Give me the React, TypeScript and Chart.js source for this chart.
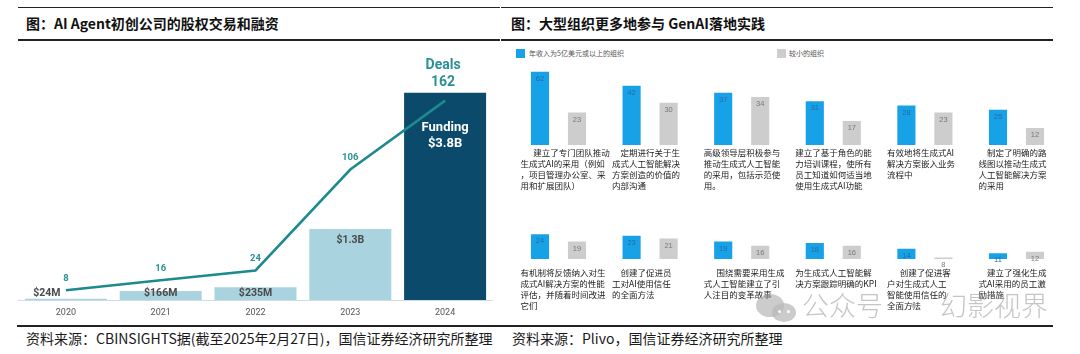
import React, { useEffect, useRef } from 'react';
import { Chart, registerables } from 'chart.js';

Chart.register(...registerables);

// ---------- Left panel data ----------
const years = ['2020', '2021', '2022', '2023', '2024'];
const fundingMillions = [24, 166, 235, 1300, 3800];
const fundingLabels = ['$24M', '$166M', '$235M', '$1.3B', '$3.8B'];
const dealCounts = [8, 16, 24, 106, 162];

// ---------- Right panel data ----------
const seriesNames = ['年收入为5亿美元或以上的组织', '较小的组织'];
const practicesTop = [
  ['\u3000\u2002建立了专门团队推动', '生成式AI的采用（例如', '，项目管理办公室、采', '用和扩展团队）'],
  ['\u3000定期进行关于生', '成式人工智能解决', '方案创造的价值的', '内部沟通'],
  ['高级领导层积极参与', '推动生成式人工智能', '的采用，包括示范使', '用。'],
  ['建立了基于角色的能', '力培训课程，使所有', '员工知道如何适当地', '使用生成式AI功能'],
  ['有效地将生成式AI', '解决方案嵌入业务', '流程中'],
  ['\u3000制定了明确的路', '线图以推动生成式', '人工智能解决方案', '的采用'],
];
const largeOrgTop = [62, 42, 37, 31, 28, 25];
const smallOrgTop = [23, 30, 34, 17, 23, 12];

const practicesBottom = [
  ['有机制将反馈纳入对生', '成式AI解决方案的性能', '评估，并随着时间改进', '它们'],
  ['\u3000创建了促进员', '工对AI使用信任', '的全面方法'],
  ['\u3000\u2002围绕需要采用生成', '式人工智能建立了引', '人注目的变革故事'],
  ['为生成式人工智能解', '决方案跟踪明确的KPI'],
  ['\u3000\u2002创建了促进客', '户对生成式人工', '智能使用信任的', '全面方法'],
  ['\u3000建立了强化生成', '式AI采用的员工激', '励措施'],
];
const largeOrgBottom = [24, 23, 19, 18, 14, 11];
const smallOrgBottom = [19, 21, 16, 16, 8, 12];

// ---------- Styles ----------
const CJK = '"Noto Sans CJK SC", "Noto Sans", sans-serif';
const BLUE = '#17a2e8';
const GRAY = '#cdcdcd';
const LIGHT = '#a9d3de';
const DARK = '#0b4a6a';
const TEAL = '#1d8a8e';

const leftLabelPlugin = {
  id: 'leftLabels',
  afterDatasetsDraw(chart: any) {
    const ctx = chart.ctx;
    const barMeta = chart.getDatasetMeta(0);
    const lineMeta = chart.getDatasetMeta(1);
    ctx.save();
    ctx.textAlign = 'center';
    ctx.textBaseline = 'middle';
    const last = fundingLabels.length - 1;
    barMeta.data.forEach((el: any, i: number) => {
      const { x, y, base } = el.getProps(['x', 'y', 'base'], true);
      const h = base - y;
      if (i === last) {
        ctx.fillStyle = '#ffffff';
        ctx.font = 'bold 13px Roboto';
        ctx.fillText('Funding', x, y + 35);
        ctx.fillText(fundingLabels[i], x, y + 51);
      } else {
        ctx.fillStyle = '#4a4a4a';
        ctx.font = 'bold 10.5px Roboto';
        const ly = h < 25 ? base - 7 : y + 11;
        const lx = i === 0 ? x - 19 : x;
        ctx.fillText(fundingLabels[i], lx, ly);
      }
    });
    lineMeta.data.forEach((pt: any, i: number) => {
      const { x, y } = pt.getProps(['x', 'y'], true);
      ctx.fillStyle = '#2a9096';
      if (i === dealCounts.length - 1) {
        ctx.font = 'bold 14px Roboto';
        ctx.fillText('Deals', x - 2, y - 35);
        ctx.fillText(String(dealCounts[i]), x - 2, y - 18);
      } else {
        ctx.font = 'bold 9.5px Roboto';
        ctx.fillText(String(dealCounts[i]), x, y - 12);
      }
    });
    ctx.restore();
  },
};

const valueLabelPlugin = {
  id: 'valueLabels',
  afterDatasetsDraw(chart: any) {
    const { ctx, chartArea } = chart;
    ctx.save();
    ctx.font = '7.5px "Liberation Sans", Arial, sans-serif';
    ctx.textAlign = 'center';
    ctx.textBaseline = 'middle';
    chart.data.datasets.forEach((ds: any, di: number) => {
      const meta = chart.getDatasetMeta(di);
      ctx.fillStyle = di === 0 ? '#2a68a0' : '#777777';
      meta.data.forEach((el: any, i: number) => {
        const { x, y } = el.getProps(['x', 'y'], true);
        const top = Math.max(y, chartArea.top);
        ctx.fillText(String(ds.data[i]), x, top + 7);
      });
    });
    ctx.restore();
  },
};

function leftConfig(): any {
  return {
    type: 'bar',
    data: {
      labels: years,
      datasets: [
        {
          type: 'bar',
          data: fundingMillions,
          yAxisID: 'y',
          backgroundColor: fundingMillions.map((_, i) => (i === fundingMillions.length - 1 ? DARK : LIGHT)),
          categoryPercentage: 1,
          barPercentage: 0.865,
          order: 1,
        },
        {
          type: 'line',
          data: dealCounts,
          yAxisID: 'y1',
          borderColor: TEAL,
          borderWidth: 2.5,
          pointRadius: 0,
          tension: 0,
          fill: false,
          order: 0,
        },
      ],
    },
    options: {
      responsive: false,
      animation: false,
      devicePixelRatio: 1,
      events: [],
      layout: { padding: { left: 18.5, right: 7.5, top: 20, bottom: 0 } },
      plugins: { legend: { display: false }, tooltip: { enabled: false } },
      scales: {
        x: {
          grid: { display: false, drawTicks: false },
          border: { display: true, color: '#cfdde2', width: 1 },
          ticks: { color: '#555', font: { family: 'Roboto', size: 9 }, padding: 7.5 },
          afterFit: (s: any) => {
            s.height = 25;
          },
        },
        y: { display: false, min: 0, max: 4400 },
        y1: { display: false, min: 0, max: 195 },
      },
    },
    plugins: [leftLabelPlugin],
  };
}

function rowConfig(labels: string[][], large: number[], small: number[], yMin: number, yMax: number, padTop: number, axisH: number, tickPad: number): any {
  return {
    type: 'bar',
    data: {
      labels,
      datasets: [
        { label: seriesNames[0], data: large, backgroundColor: BLUE, categoryPercentage: 0.808, barPercentage: 0.49, clip: 0 },
        { label: seriesNames[1], data: small, backgroundColor: GRAY, categoryPercentage: 0.808, barPercentage: 0.49, clip: 0 },
      ],
    },
    options: {
      responsive: false,
      animation: false,
      devicePixelRatio: 1,
      events: [],
      layout: { padding: { left: 12.7, right: 17.7, top: padTop, bottom: 0 } },
      plugins: { legend: { display: false }, tooltip: { enabled: false } },
      scales: {
        x: {
          grid: { display: false, drawTicks: false },
          border: { display: false },
          ticks: {
            align: 'start',
            labelOffset: -38,
            padding: tickPad,
            autoSkip: false,
            maxRotation: 0,
            minRotation: 0,
            color: '#222',
            font: { family: CJK, size: 8.5, lineHeight: 1.3 },
          },
          afterFit: (s: any) => {
            s.height = axisH;
            s.paddingLeft = 0;
            s.paddingRight = 0;
          },
        },
        y: { display: false, min: yMin, max: yMax, beginAtZero: false },
      },
    },
    plugins: [valueLabelPlugin],
  };
}

function ChartBox({ make, left, top, width, height }: any) {
  const ref = useRef<HTMLCanvasElement>(null);
  useEffect(() => {
    const chart = new Chart(ref.current as HTMLCanvasElement, make());
    return () => chart.destroy();
  }, []);
  return (
    <canvas
      ref={ref}
      width={width}
      height={height}
      style={{ position: 'absolute', left, top, width, height }}
    />
  );
}

const abs = (o: any) => ({ position: 'absolute' as const, ...o });

export default function App() {
  const titleStyle = {
    fontFamily: CJK,
    fontWeight: 700,
    fontSize: 14,
    lineHeight: '20px',
    color: '#111',
    whiteSpace: 'nowrap' as const,
  };
  const sourceStyle = {
    fontFamily: CJK,
    fontSize: 14,
    lineHeight: '20px',
    color: '#1a1a1a',
    whiteSpace: 'nowrap' as const,
  };
  const legendText = { fontFamily: CJK, fontSize: 7, lineHeight: '10px', color: '#555', whiteSpace: 'nowrap' as const };
  const wm = { fontFamily: CJK, fontSize: 27, fontWeight: 300, lineHeight: '30px', color: 'rgba(150,150,150,0.55)', whiteSpace: 'nowrap' as const };

  return (
    <div style={{ position: 'fixed', left: 0, top: 0, width: 1080, height: 354, background: '#fff', overflow: 'hidden' }}>
      {/* rules */}
      <div style={abs({ left: 18, top: 7, width: 482, height: 1, background: '#222' })} />
      <div style={abs({ left: 18, top: 39, width: 482, height: 2, background: '#222' })} />
      <div style={abs({ left: 501, top: 7, width: 552, height: 1, background: '#222' })} />
      <div style={abs({ left: 501, top: 39, width: 552, height: 2, background: '#222' })} />
      <div style={abs({ left: 17, top: 325, width: 483, height: 2, background: '#222' })} />
      <div style={abs({ left: 500, top: 325, width: 553, height: 2, background: '#222' })} />

      {/* titles */}
      <div style={abs({ left: 26, top: 13, ...titleStyle })}>图：AI Agent初创公司的股权交易和融资</div>
      <div style={abs({ left: 511, top: 13, ...titleStyle })}>图：大型组织更多地参与 GenAI落地实践</div>

      {/* sources */}
      <div style={abs({ left: 26, top: 328, ...sourceStyle })}>资料来源：CBINSIGHTS据(截至2025年2月27日)，国信证券经济研究所整理</div>
      <div style={abs({ left: 512, top: 328, ...sourceStyle })}>资料来源：Plivo，国信证券经济研究所整理</div>

      {/* left chart */}
      <ChartBox make={leftConfig} left={0} top={40} width={500} height={285} />

      {/* right legend */}
      <div style={abs({ left: 516, top: 49, width: 9, height: 9, background: BLUE })} />
      <div style={abs({ left: 529, top: 48, ...legendText })}>{seriesNames[0]}</div>
      <div style={abs({ left: 777, top: 49, width: 9, height: 9, background: GRAY })} />
      <div style={abs({ left: 789, top: 48, ...legendText })}>{seriesNames[1]}</div>

      {/* right charts */}
      <ChartBox
        make={() => rowConfig(practicesTop, largeOrgTop, smallOrgTop, 0, 52, 9.7, 77, 2.2)}
        left={500}
        top={62}
        width={580}
        height={160}
      />
      <ChartBox
        make={() => rowConfig(practicesBottom, largeOrgBottom, smallOrgBottom, 7, 30.3, 3, 67, 8.5)}
        left={500}
        top={222}
        width={580}
        height={104}
      />

      {/* watermark */}
      <div style={abs({ left: 756, top: 294, width: 28, height: 23, borderRadius: '50%', background: 'rgba(170,170,170,0.6)' })} />
      <div style={abs({ left: 772, top: 303, width: 24, height: 19, borderRadius: '50%', background: 'rgba(185,185,185,0.75)' })} />
      <div style={abs({ left: 778, top: 310, width: 3, height: 3, borderRadius: '50%', background: '#fff' })} />
      <div style={abs({ left: 787, top: 310, width: 3, height: 3, borderRadius: '50%', background: '#fff' })} />
      <div style={abs({ left: 802, top: 290, ...wm })}>公众号</div>
      <div style={abs({ left: 900, top: 290, ...wm })}>·</div>
      <div style={abs({ left: 940, top: 290, ...wm })}>幻影视界</div>
    </div>
  );
}
